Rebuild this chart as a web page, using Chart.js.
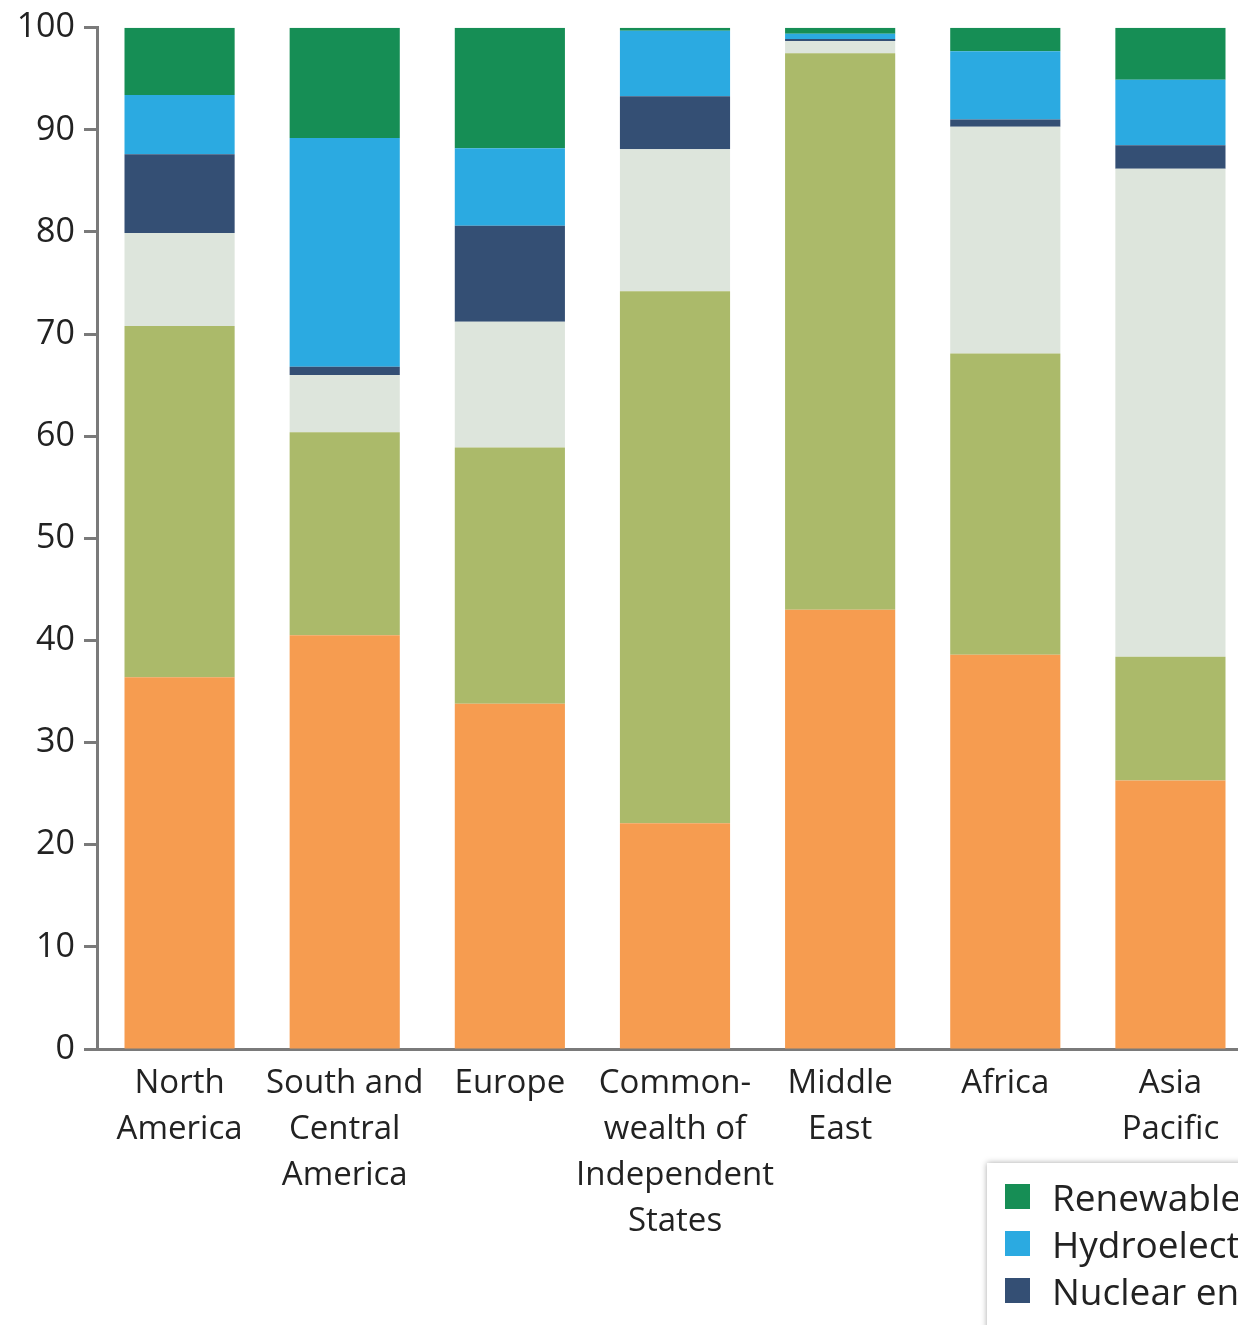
<!DOCTYPE html>
<html>
<head>
<meta charset="utf-8">
<script src="https://cdn.jsdelivr.net/npm/chart.js@4"></script>
<style>
  html, body { margin: 0; padding: 0; background: #fff; overflow: hidden; width: 1238px; height: 1325px; }
  #wrap { position: relative; width: 1238px; height: 1325px; overflow: hidden; }
  #chart { position: absolute; left: 0; top: 0; }
  #legend {
    position: absolute; left: 987px; top: 1163px; width: 340px; height: 300px;
    background: #fff; box-shadow: 0 0 6px rgba(0,0,0,0.35);
    font-family: "Open Sans", "Noto Sans", sans-serif; font-size: 37px; color: #222;
    padding-top: 10px; box-sizing: border-box;
  }
  .item { display: flex; align-items: center; height: 47px; white-space: nowrap; }
  .sw { width: 25px; height: 25px; margin-left: 18px; margin-right: 22px; flex: none; }
</style>
</head>
<body>
<div id="wrap">
  <canvas id="chart" width="1253" height="1325"></canvas>
  <div id="legend"></div>
</div>
<script>
let regions = [
  ["North", "America"],
  ["South and", "Central", "America"],
  ["Europe"],
  ["Common-", "wealth of", "Independent", "States"],
  ["Middle", "East"],
  ["Africa"],
  ["Asia", "Pacific"]
];

// shares of primary energy consumption, %
let oil         = [36.4, 40.5, 33.8, 22.1, 43.0, 38.6, 26.3];
let naturalGas  = [34.4, 19.9, 25.1, 52.1, 54.5, 29.5, 12.1];
let coal        = [ 9.1,  5.6, 12.3, 13.9,  1.2, 22.2, 47.8];
let nuclear     = [ 7.7,  0.8,  9.4,  5.2,  0.2,  0.7,  2.3];
let hydro       = [ 5.8, 22.4,  7.6,  6.4,  0.5,  6.7,  6.4];
let renewables  = [ 6.6, 10.8, 11.8,  0.3,  0.6,  2.3,  5.1];

let yTicks = [0, 10, 20, 30, 40, 50, 60, 70, 80, 90, 100];

let ctx = document.getElementById("chart").getContext("2d");

let datasets = [
  { label: "Oil", data: oil, backgroundColor: "#f69c50" },
  { label: "Natural gas", data: naturalGas, backgroundColor: "#abba6a" },
  { label: "Coal", data: coal, backgroundColor: "#dde5dc" },
  { label: "Nuclear energy", data: nuclear, backgroundColor: "#344f74" },
  { label: "Hydroelectricity", data: hydro, backgroundColor: "#2baae1" },
  { label: "Renewables", data: renewables, backgroundColor: "#168e55" }
];
datasets.forEach(d => {
  d.barPercentage = 0.667;
  d.categoryPercentage = 1.0;
  d.borderWidth = 0;
});

let xFont = { family: "'Open Sans', 'Noto Sans', sans-serif", size: 33, lineHeight: 1.4 };
let yFont = { family: "'Open Sans', 'Noto Sans', sans-serif", size: 34, lineHeight: 1.1 };

let chart = new Chart(ctx, {
  type: "bar",
  data: { labels: regions, datasets: datasets },
  options: {
    responsive: false,
    animation: false,
    layout: { padding: { top: 26, left: 0, right: 0, bottom: 0 } },
    plugins: { legend: { display: false }, tooltip: { enabled: false } },
    scales: {
      x: {
        stacked: true,
        grid: { display: false, drawTicks: false },
        border: { display: true, color: "#7a7a7a", width: 3 },
        ticks: { color: "#222", font: xFont, padding: 11, maxRotation: 0, autoSkip: false },
        afterFit: s => { s.height = 276; }
      },
      y: {
        stacked: true,
        min: 0, max: 100,
        afterBuildTicks: s => { s.ticks = yTicks.map(v => ({ value: v })); },
        grid: { drawOnChartArea: false, drawTicks: true, tickLength: 13, tickColor: "#7a7a7a", tickWidth: 3 },
        border: { display: true, color: "#7a7a7a", width: 3 },
        ticks: { color: "#222", font: yFont, padding: 9 },
        afterFit: s => { s.width = 97; }
      }
    }
  }
});

// legend (top of stack first)
let legend = document.getElementById("legend");
datasets.slice().reverse().forEach(d => {
  let row = document.createElement("div");
  row.className = "item";
  let sw = document.createElement("span");
  sw.className = "sw";
  sw.style.background = d.backgroundColor;
  let tx = document.createElement("span");
  tx.textContent = d.label;
  row.appendChild(sw);
  row.appendChild(tx);
  legend.appendChild(row);
});
</script>
</body>
</html>
